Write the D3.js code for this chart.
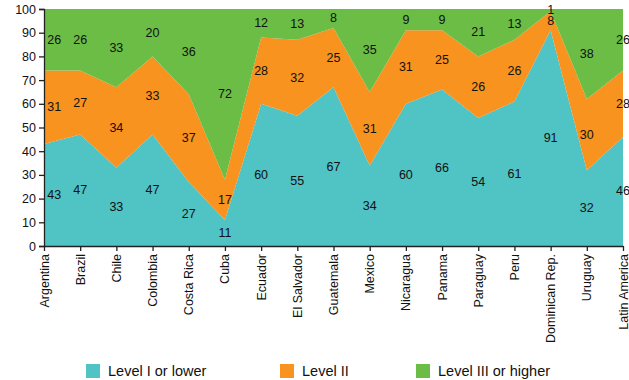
<!DOCTYPE html>
<html>
<head>
<meta charset="utf-8">
<script src="https://cdn.jsdelivr.net/npm/d3@7"></script>
<style>
  html, body { margin: 0; padding: 0; background: #fff; }
  svg { display: block; font-family: "Liberation Sans", Arial, Helvetica, sans-serif; }
</style>
</head>
<body>
<svg id="chart" width="629" height="380"></svg>
<script>
// Share of students by proficiency level, per country
const countries = ["Argentina", "Brazil", "Chile", "Colombia", "Costa Rica", "Cuba", "Ecuador",
  "El Salvador", "Guatemala", "Mexico", "Nicaragua", "Panama", "Paraguay", "Peru",
  "Dominican Rep.", "Uruguay", "Latin America"];
const levelLow  = [43, 47, 33, 47, 27, 11, 60, 55, 67, 34, 60, 66, 54, 61, 91, 32, 46];
const levelMid  = [31, 27, 34, 33, 37, 17, 28, 32, 25, 31, 31, 25, 26, 26, 8, 30, 28];
const levelHigh = [26, 26, 33, 20, 36, 72, 12, 13, 8, 35, 9, 9, 21, 13, 1, 38, 26];
const seriesNames = ["Level I or lower", "Level II", "Level III or higher"];
const seriesColors = ["#50c3c4", "#f7931e", "#6bbd45"];
const yTicks = [0, 10, 20, 30, 40, 50, 60, 70, 80, 90, 100];

const svg = d3.select("#chart");
const margin = { left: 44, right: 6, top: 9, bottom: 134 };
const W = 629, H = 380;

const rows = countries.map((c, i) => ({ country: c, low: levelLow[i], mid: levelMid[i], high: levelHigh[i] }));
const keys = ["low", "mid", "high"];
const stacked = d3.stack().keys(keys)(rows);

const x = d3.scalePoint().domain(countries).range([margin.left, W - margin.right]);
const y = d3.scaleLinear().domain([0, 100]).range([H - margin.bottom, margin.top]);

// keep the stacked areas inside the 0–100 plot box (rounded shares can sum to 101)
svg.append("defs").append("clipPath").attr("id", "plot-clip")
  .append("rect")
  .attr("x", margin.left).attr("y", margin.top)
  .attr("width", W - margin.left - margin.right)
  .attr("height", H - margin.top - margin.bottom);

const area = d3.area()
  .x(d => x(d.data.country))
  .y0(d => y(d[0]))
  .y1(d => y(d[1]));

svg.append("g").attr("clip-path", "url(#plot-clip)")
  .selectAll("path")
  .data(stacked)
  .join("path")
  .attr("d", area)
  .attr("fill", (d, i) => seriesColors[i]);

// value labels in the middle of each band
const labels = svg.append("g").attr("font-size", 12.5).attr("fill", "#111");
stacked.forEach(layer => {
  layer.forEach(d => {
    const v = d[1] - d[0];
    let cx = x(d.data.country);
    const halfW = String(v).length * 3.6;
    cx = Math.max(cx, margin.left + halfW + 3);
    labels.append("text")
      .attr("x", cx)
      .attr("y", y((d[0] + d[1]) / 2))
      .attr("text-anchor", "middle")
      .attr("dominant-baseline", "central")
      .text(v);
  });
});

// axes
const yAxis = svg.append("g")
  .attr("transform", `translate(${margin.left},0)`)
  .call(d3.axisLeft(y).tickValues(yTicks).tickSize(5).tickPadding(3));
yAxis.selectAll("text").attr("font-size", 12.5).attr("fill", "#111").attr("font-family", "Liberation Sans, Arial, sans-serif");
yAxis.selectAll("line, path").attr("stroke", "#222").attr("stroke-width", 1.3);

const xAxis = svg.append("g")
  .attr("transform", `translate(0,${H - margin.bottom})`)
  .call(d3.axisBottom(x).tickSize(5).tickSizeOuter(0));
xAxis.select(".domain").attr("stroke", "#222").attr("stroke-width", 1.3);
xAxis.selectAll("line").attr("stroke", "#222").attr("stroke-width", 1.3);
xAxis.selectAll("text")
  .attr("font-size", 12.5)
  .attr("fill", "#111")
  .attr("font-family", "Liberation Sans, Arial, sans-serif")
  .attr("transform", "rotate(-90)")
  .attr("text-anchor", "end")
  .attr("dominant-baseline", "central")
  .attr("x", -8)
  .attr("y", 0)
  .attr("dy", null);

// legend
const legendX = [86, 280, 416];
const legend = svg.append("g");
seriesNames.forEach((name, i) => {
  legend.append("rect")
    .attr("x", legendX[i]).attr("y", 364)
    .attr("width", 14).attr("height", 14)
    .attr("fill", seriesColors[i]);
  legend.append("text")
    .attr("x", legendX[i] + 22).attr("y", 371)
    .attr("dominant-baseline", "central")
    .attr("font-size", 14.5)
    .attr("fill", "#111")
    .text(name);
});
</script>
</body>
</html>
